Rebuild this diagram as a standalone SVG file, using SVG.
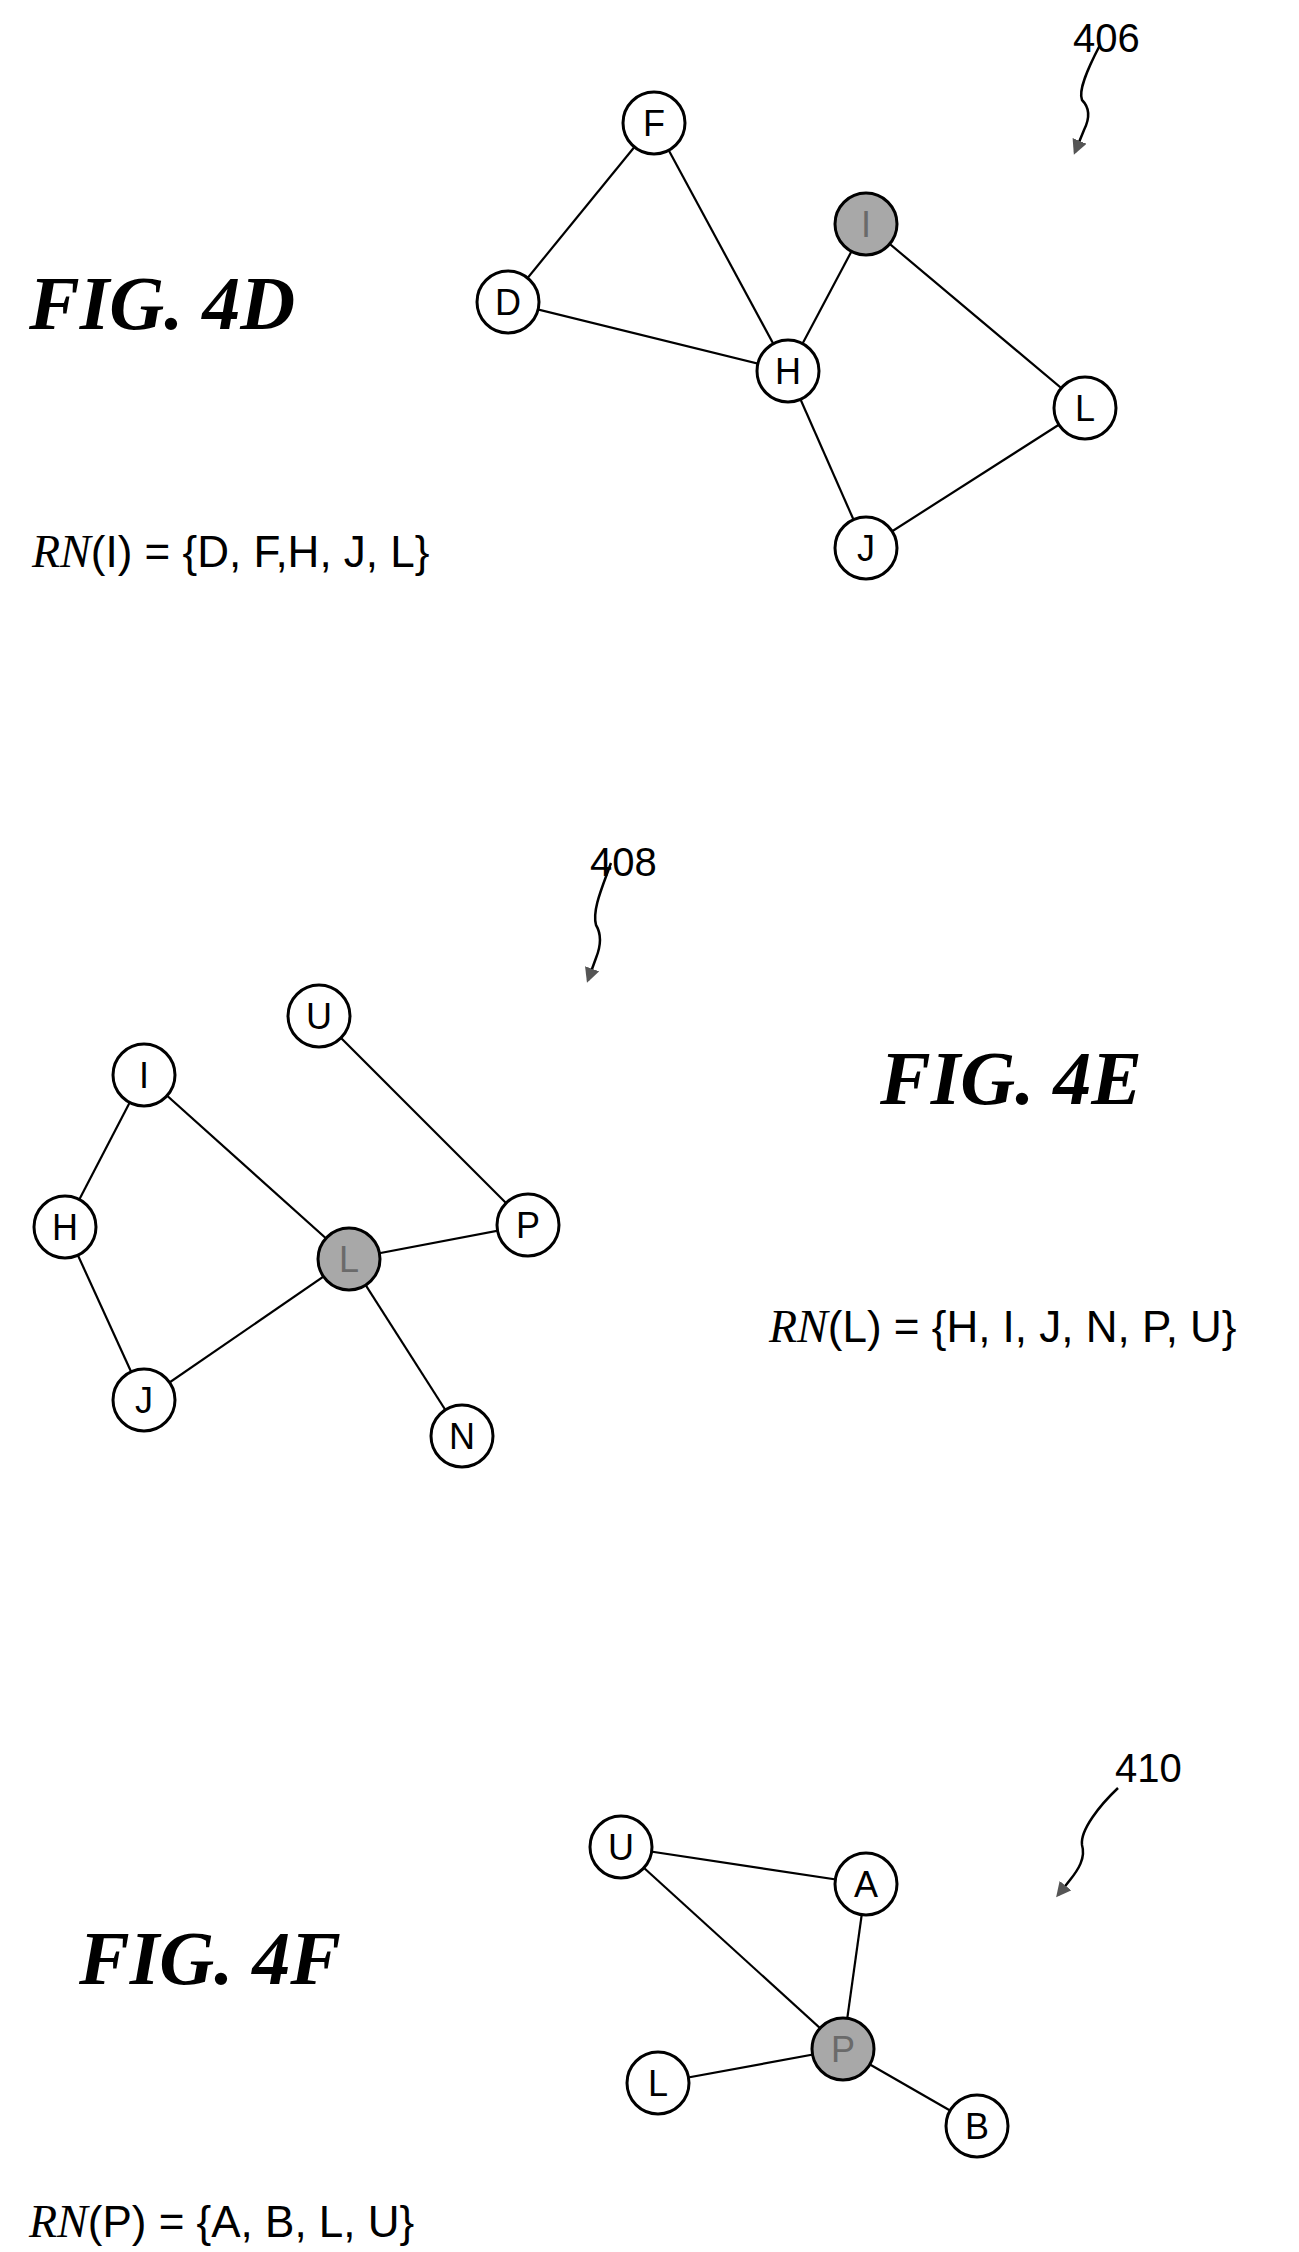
<svg xmlns="http://www.w3.org/2000/svg" width="1299" height="2252" viewBox="0 0 1299 2252">
<style>
.n{fill:#fff;stroke:#000;stroke-width:3}
.g{fill:#a8a8a8;stroke:#000;stroke-width:3}
.t{font-family:"Liberation Sans",Arial,sans-serif;font-size:36px;text-anchor:middle;dominant-baseline:central}
.tg{fill:#6a6a6a}
.e line{stroke:#000;stroke-width:2.2}
.fig{font-family:"Liberation Serif","Times New Roman",serif;font-style:italic;font-weight:bold;font-size:76px}
.rn{font-family:"Liberation Sans",Arial,sans-serif;font-size:44px}
.rn tspan.i{font-family:"Liberation Serif",serif;font-style:italic;font-size:46px}
.ref{font-family:"Liberation Sans",Arial,sans-serif;font-size:40px}
.ar{fill:none;stroke:#000;stroke-width:2.5}
</style>
<defs>
<marker id="ah" viewBox="0 0 10 10" refX="8" refY="5" markerWidth="6" markerHeight="6" orient="auto-start-reverse">
<path d="M0,0 L10,5 L0,10 z" fill="#555"/>
</marker>
</defs>
<g id="connectors">
<g class="e">
<line x1="654" y1="123" x2="508" y2="302"/>
<line x1="654" y1="123" x2="788" y2="371"/>
<line x1="508" y1="302" x2="788" y2="371"/>
<line x1="866" y1="224" x2="788" y2="371"/>
<line x1="866" y1="224" x2="1085" y2="408"/>
<line x1="788" y1="371" x2="866" y2="548"/>
<line x1="866" y1="548" x2="1085" y2="408"/>
<line x1="319" y1="1016" x2="528" y2="1225"/>
<line x1="144" y1="1075" x2="65" y2="1227"/>
<line x1="144" y1="1075" x2="349" y2="1259"/>
<line x1="65" y1="1227" x2="144" y2="1400"/>
<line x1="349" y1="1259" x2="528" y2="1225"/>
<line x1="349" y1="1259" x2="144" y2="1400"/>
<line x1="349" y1="1259" x2="462" y2="1436"/>
<line x1="621" y1="1847" x2="866" y2="1884"/>
<line x1="621" y1="1847" x2="843" y2="2049"/>
<line x1="866" y1="1884" x2="843" y2="2049"/>
<line x1="658" y1="2083" x2="843" y2="2049"/>
<line x1="843" y1="2049" x2="977" y2="2126"/>
</g>
<path class="ar" d="M1100,45 C1088,68 1078,90 1082,100 C1090,108 1090,118 1084,130 L1075,152" marker-end="url(#ah)"/>
<path class="ar" d="M611,863 C602,888 592,910 596,925 C602,935 600,948 596,958 L588,980" marker-end="url(#ah)"/>
<path class="ar" d="M1118,1788 C1100,1805 1080,1830 1082,1845 C1086,1858 1078,1870 1070,1880 L1058,1895" marker-end="url(#ah)"/>
</g>
<g id="node-4D-F"><circle class="n" cx="654" cy="123" r="31"/><text class="t" x="654" y="123">F</text></g>
<g id="node-4D-D"><circle class="n" cx="508" cy="302" r="31"/><text class="t" x="508" y="302">D</text></g>
<g id="node-4D-I"><circle class="g" cx="866" cy="224" r="31"/><text class="t tg" x="866" y="224">I</text></g>
<g id="node-4D-H"><circle class="n" cx="788" cy="371" r="31"/><text class="t" x="788" y="371">H</text></g>
<g id="node-4D-L"><circle class="n" cx="1085" cy="408" r="31"/><text class="t" x="1085" y="408">L</text></g>
<g id="node-4D-J"><circle class="n" cx="866" cy="548" r="31"/><text class="t" x="866" y="548">J</text></g>
<g id="node-4E-U"><circle class="n" cx="319" cy="1016" r="31"/><text class="t" x="319" y="1016">U</text></g>
<g id="node-4E-I"><circle class="n" cx="144" cy="1075" r="31"/><text class="t" x="144" y="1075">I</text></g>
<g id="node-4E-H"><circle class="n" cx="65" cy="1227" r="31"/><text class="t" x="65" y="1227">H</text></g>
<g id="node-4E-L"><circle class="g" cx="349" cy="1259" r="31"/><text class="t tg" x="349" y="1259">L</text></g>
<g id="node-4E-P"><circle class="n" cx="528" cy="1225" r="31"/><text class="t" x="528" y="1225">P</text></g>
<g id="node-4E-J"><circle class="n" cx="144" cy="1400" r="31"/><text class="t" x="144" y="1400">J</text></g>
<g id="node-4E-N"><circle class="n" cx="462" cy="1436" r="31"/><text class="t" x="462" y="1436">N</text></g>
<g id="node-4F-U"><circle class="n" cx="621" cy="1847" r="31"/><text class="t" x="621" y="1847">U</text></g>
<g id="node-4F-A"><circle class="n" cx="866" cy="1884" r="31"/><text class="t" x="866" y="1884">A</text></g>
<g id="node-4F-P"><circle class="g" cx="843" cy="2049" r="31"/><text class="t tg" x="843" y="2049">P</text></g>
<g id="node-4F-L"><circle class="n" cx="658" cy="2083" r="31"/><text class="t" x="658" y="2083">L</text></g>
<g id="node-4F-B"><circle class="n" cx="977" cy="2126" r="31"/><text class="t" x="977" y="2126">B</text></g>
<g id="labels">
<text class="fig" x="29" y="329">FIG. 4D</text>
<text class="rn" x="32" y="567"><tspan class="i">RN</tspan>(I) = {D, F,H, J, L}</text>
<text class="ref" x="1073" y="52">406</text>
<text class="fig" x="880" y="1104">FIG. 4E</text>
<text class="rn" x="769" y="1342"><tspan class="i">RN</tspan>(L) = {H, I, J, N, P, U}</text>
<text class="ref" x="590" y="876">408</text>
<text class="fig" x="79" y="1984">FIG. 4F</text>
<text class="rn" x="29" y="2237"><tspan class="i">RN</tspan>(P) = {A, B, L, U}</text>
<text class="ref" x="1115" y="1782">410</text>
</g>
</svg>
